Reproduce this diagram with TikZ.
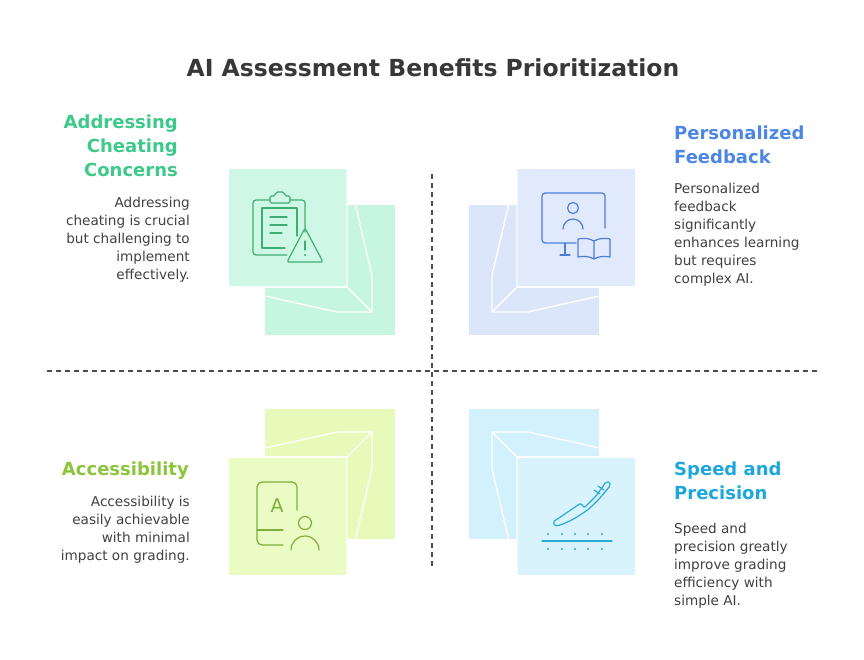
\documentclass[tikz,border=0pt]{standalone}
\usepackage{fontspec}
\setmainfont{DejaVu Sans}
\tikzset{
    head/.style = {font=\bfseries\fontsize{18}{24}\selectfont, inner sep=0pt},
    body/.style = {font=\fontsize{13.6}{18}\selectfont, text=black!75, inner sep=0pt},
    edge/.style = {draw=white, line width=1.3pt, line join=round},
    icon/.style = {line width=1.2pt, line cap=round, line join=round},
    divider/.style = {draw=black!70, dashed, dash pattern=on 5pt off 4pt, line width=1.1pt}
}
\definecolor{mintbg}{HTML}{C6F6E0}
\definecolor{bluebg}{HTML}{DCE6FB}
\definecolor{limebg}{HTML}{E7FAB9}
\definecolor{cyanbg}{HTML}{D2F1FC}
\definecolor{mintfg}{HTML}{3DC98A}
\definecolor{bluefg}{HTML}{4D86E4}
\definecolor{limefg}{HTML}{8CC43C}
\definecolor{cyanfg}{HTML}{1EA7DC}
\definecolor{mintic}{HTML}{3FAE74}
\definecolor{blueic}{HTML}{4C7ED8}
\definecolor{limeic}{HTML}{80AE3C}
\definecolor{cyanic}{HTML}{2AAAD8}

\begin{document}
\begin{tikzpicture}[x=1pt, y=-1pt]
    \useasboundingbox (0,0) rectangle (864,660);
    % title
    \node [head, text=black!78, font=\bfseries\fontsize{23.5}{26}\selectfont] (title) at (433,68) {AI Assessment Benefits Prioritization};
    % dividers
    \draw [divider] (47,371) -- (817,371);
    \draw [divider] (432,174) -- (432,568);

    % top left cube
    \fill [mintbg] (265,205) rectangle (395,335);
    \fill [mintbg!85!white] (229,169) rectangle (347,287);
    \draw [edge] (347,169) -- (372,275) -- (372,312) -- (337,312) -- (229,288);
    \draw [edge] (347,169) -- (347,287) -- (372,312);
    \draw [edge] (229,287) -- (347,287);
    % top right cube
    \fill [bluebg] (469,205) rectangle (599,335);
    \fill [bluebg!85!white] (517,169) rectangle (635,287);
    \draw [edge] (517,169) -- (492,275) -- (492,312) -- (528,312) -- (635,288);
    \draw [edge] (517,169) -- (517,287) -- (492,312);
    \draw [edge] (517,287) -- (635,287);
    % bottom left cube
    \fill [limebg] (265,409) rectangle (395,539);
    \fill [limebg!85!white] (229,457) rectangle (347,575);
    \draw [edge] (229,456) -- (337,432) -- (372,432) -- (372,469) -- (347,575);
    \draw [edge] (347,575) -- (347,457) -- (372,432);
    \draw [edge] (229,457) -- (347,457);
    % bottom right cube
    \fill [cyanbg] (469,409) rectangle (599,539);
    \fill [cyanbg!85!white] (517,457) rectangle (635,575);
    \draw [edge] (635,456) -- (528,432) -- (492,432) -- (492,469) -- (517,575);
    \draw [edge] (517,575) -- (517,457) -- (492,432);
    \draw [edge] (517,457) -- (635,457);

    % icon: clipboard with warning
    \begin{scope}[icon, draw=mintic]
        \draw [rounded corners=3pt] (287,255) -- (253,255) -- (253,200) -- (270,200);
        \draw [rounded corners=3pt] (290,200) -- (305,200) -- (305,232);
        \draw [rounded corners=1.5pt] (270,203) -- (270,196) -- (275,196) -- (276,192) -- (284,192) -- (285,196) -- (290,196) -- (290,203) -- cycle;
        \draw (285,248) -- (262,248) -- (262,208) -- (297,208) -- (297,236);
        \draw (270,217) -- (287,217) (270,225) -- (287,225) (270,233) -- (282,233);
        \draw [rounded corners=2pt] (305,228) -- (323,262) -- (287,262) -- cycle;
        \draw (305,241) -- (305,250);
        \fill [mintic] (305,255) circle (1.2);
    \end{scope}
    % icon: monitor with person and book
    \begin{scope}[icon, draw=blueic]
        \draw [rounded corners=3pt] (576,243) -- (542,243) -- (542,193) -- (605,193) -- (605,228);
        \draw (565,243) -- (565,255) (560,255) -- (570,255);
        \draw (573,208) circle (5.5);
        \draw (563,229) arc (180:360:10);
        \draw (594,241) .. controls (589,238) and (583,238) .. (578,239) -- (578,257) .. controls (583,256) and (589,256) .. (594,259) .. controls (599,256) and (605,256) .. (610,257) -- (610,239) .. controls (605,238) and (599,238) .. (594,241) -- (594,259);
    \end{scope}
    % icon: card with letter and person
    \begin{scope}[icon, draw=limeic]
        \draw [rounded corners=5pt] (283,545) -- (257,545) -- (257,482) -- (297,482) -- (297,510);
        \draw (257,530) -- (283,530);
        \node [text=limeic, inner sep=0pt, font=\fontsize{19}{19}\selectfont] (letter) at (277,506) {A};
        \draw (305,523) circle (6.5);
        \draw (291,550) arc (180:360:14);
    \end{scope}
    % icon: scalpel over dotted lines
    \begin{scope}[icon, draw=cyanic]
        \draw [rounded corners=1.5pt] (553,522) -- (581,503) -- (584,508) -- (596,496) -- (606,482) -- (610,482) -- (610,486) -- (600,498) -- (590,508) .. controls (577,518) and (563,525) .. (555,526) -- cycle;
        \draw (594,490) -- (600,494) (598,486) -- (604,490);
        \draw (542,541) -- (612,541);
        \foreach \px in {548,562,575,588,602} {
            \fill [cyanic] (\px,534) circle (1.2);
            \fill [cyanic] (\px,549) circle (1.2);
        }
    \end{scope}

    % texts
    \node [head, text=mintfg, align=right, anchor=north east] (cheatHead) at (178,115) {Addressing\\Cheating\\Concerns};
    \node [body, align=right, anchor=north east] (cheatText) at (190,197) {Addressing\\cheating is crucial\\but challenging to\\implement\\effectively.};
    \node [head, text=bluefg, align=left, anchor=north west] (feedHead) at (674,126) {Personalized\\Feedback};
    \node [body, align=left, anchor=north west] (feedText) at (674,183) {Personalized\\feedback\\significantly\\enhances learning\\but requires\\complex AI.};
    \node [head, text=limefg, align=right, anchor=north east] (accessHead) at (189,462) {Accessibility};
    \node [body, align=right, anchor=north east] (accessText) at (190,496) {Accessibility is\\easily achievable\\with minimal\\impact on grading.};
    \node [head, text=cyanfg, align=left, anchor=north west] (speedHead) at (674,462) {Speed and\\Precision};
    \node [body, align=left, anchor=north west] (speedText) at (674,523) {Speed and\\precision greatly\\improve grading\\efficiency with\\simple AI.};
\end{tikzpicture}
\end{document}
